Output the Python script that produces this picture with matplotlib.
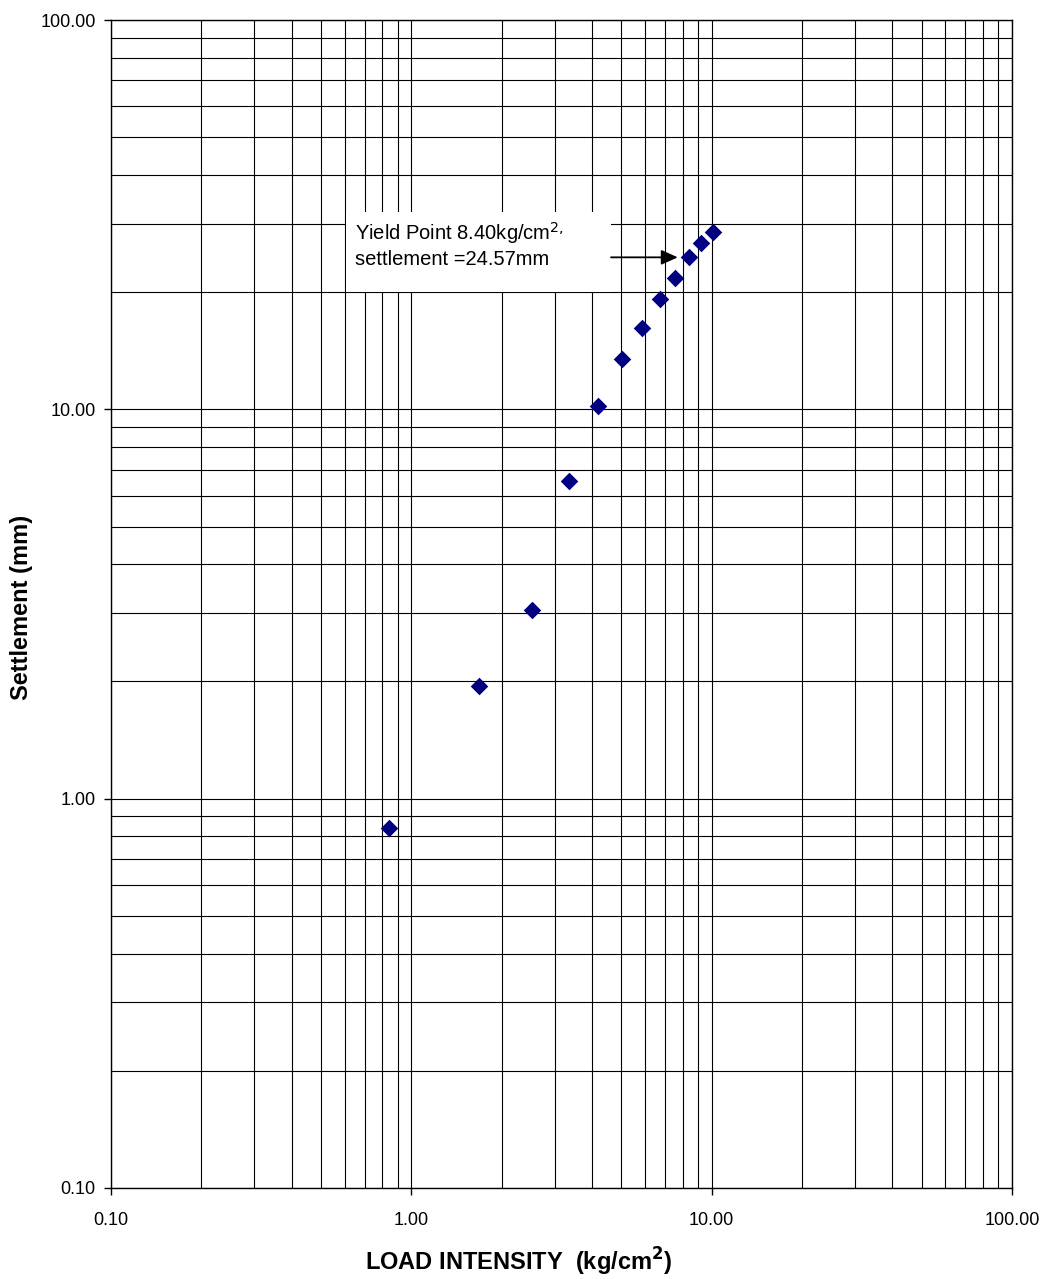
import matplotlib
matplotlib.use("Agg")
import matplotlib.pyplot as plt
from matplotlib.ticker import LogLocator, FormatStrFormatter, NullFormatter
from matplotlib.patches import Rectangle

plt.rcParams['font.family'] = ['Liberation Sans', 'DejaVu Sans']

load = [0.84, 1.68, 2.52, 3.36, 4.20, 5.04, 5.88, 6.72, 7.56, 8.40, 9.24, 10.08]
settlement = [0.84, 1.95, 3.05, 6.54, 10.2, 13.5, 16.2, 19.2, 21.7, 24.57, 26.7, 28.5]
yield_load = 8.40
yield_settlement = 24.57
annot_text = "Yield Point 8.40kg/cm$^{2,}$\nsettlement =24.57mm"

fig = plt.figure(figsize=(10.48, 12.79), dpi=100)
ax = fig.add_axes([0.1059, 0.07115, 0.8597, 0.91321])
ax.set_xscale('log')
ax.set_yscale('log')
ax.set_xlim(0.1, 100)
ax.set_ylim(0.1, 100)

ax.xaxis.set_major_locator(LogLocator(base=10, numticks=10))
ax.yaxis.set_major_locator(LogLocator(base=10, numticks=10))
ax.xaxis.set_minor_locator(LogLocator(base=10, subs=range(2, 10), numticks=20))
ax.yaxis.set_minor_locator(LogLocator(base=10, subs=range(2, 10), numticks=20))
ax.xaxis.set_major_formatter(FormatStrFormatter('%.2f'))
ax.yaxis.set_major_formatter(FormatStrFormatter('%.2f'))
ax.xaxis.set_minor_formatter(NullFormatter())
ax.yaxis.set_minor_formatter(NullFormatter())

ax.grid(True, which='both', color='black', linewidth=0.8)
ax.set_axisbelow(True)
ax.tick_params(which='major', direction='out', length=5, width=1, labelsize=13, pad=12)
ax.tick_params(which='minor', length=0)
ax.tick_params(axis='y', pad=6)
for s in ax.spines.values():
    s.set_linewidth(1.0)
    s.set_color('black')

ax.scatter(load, settlement, marker='D', s=80, color='#000080', zorder=5, linewidths=0)

# annotation box
ax.add_patch(Rectangle((0.261, 0.7671), 0.294, 0.0685, transform=ax.transAxes,
                       facecolor='white', edgecolor='none', zorder=3))
ax.text(0.271, 0.8080, annot_text, transform=ax.transAxes, fontsize=14.5,
        va='center', ha='left', linespacing=1.25, zorder=4)
ax.annotate('', xy=(yield_load, yield_settlement), xycoords='data',
            xytext=(0.555, yield_settlement), textcoords=('axes fraction', 'data'),
            arrowprops=dict(arrowstyle='-|>,head_length=1.0,head_width=0.45', color='black',
                            lw=1.3, shrinkA=0, shrinkB=8), zorder=4)

fig.text(519/1048, 1 - 1262/1279, 'LOAD INTENSITY  (kg/cm$^\\mathbf{2}$)', fontsize=17,
         fontweight='bold', ha='center', va='center')
fig.text(22/1048, 1 - 607/1279, 'Settlement (mm)', fontsize=17, fontweight='bold',
         ha='center', va='center', rotation=90)

fig.savefig('out.png', dpi=100)
